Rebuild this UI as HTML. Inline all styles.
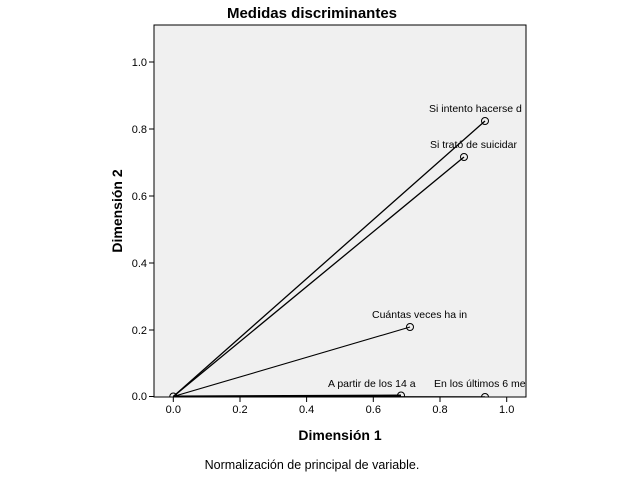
<!DOCTYPE html>
<html><head><style>body{margin:0;background:#fff}</style></head><body>
<svg width="625" height="482" xmlns="http://www.w3.org/2000/svg" font-family="Liberation Sans, Arial, sans-serif">
<rect width="625" height="482" fill="#fff"/>
<text x="312" y="18" font-size="15" font-weight="bold" text-anchor="middle">Medidas discriminantes</text>
<defs><clipPath id="c"><rect x="154" y="25" width="372" height="372"/></clipPath></defs>
<rect x="154" y="25" width="372" height="372" fill="#f0f0f0" stroke="#000" stroke-width="1"/>
<g clip-path="url(#c)" stroke="#000" fill="none">
<line x1="173.3" y1="396.5" x2="485" y2="121" stroke-width="1.3"/>
<line x1="173.3" y1="396.5" x2="464" y2="157" stroke-width="1.3"/>
<line x1="173.3" y1="396.5" x2="410" y2="327" stroke-width="1.1"/>
<line x1="173.3" y1="396.5" x2="401" y2="395.5" stroke-width="2"/>
<line x1="173.3" y1="396.5" x2="485" y2="397" stroke-width="1.5"/>
<circle cx="173.3" cy="396.5" r="3.5"/>
<circle cx="485" cy="121" r="3.5"/>
<circle cx="464" cy="157" r="3.5"/>
<circle cx="410" cy="327" r="3.5"/>
<circle cx="401" cy="395.5" r="3.5"/>
<circle cx="485" cy="397" r="3.5"/>
</g>
<g clip-path="url(#c)" font-size="10.5" fill="#000">
<text x="429" y="112">Si intento hacerse d</text>
<text x="430" y="148">Si trató de suicidar</text>
<text x="372" y="318">Cuántas veces ha in</text>
<text x="328" y="387">A partir de los 14 a</text>
<text x="434" y="387">En los últimos 6 me</text>
</g>
<line x1="154" y1="397" x2="526" y2="397" stroke="#000"/>
<g stroke="#000">
<line x1="149" y1="62" x2="154" y2="62"/><line x1="149" y1="129" x2="154" y2="129"/><line x1="149" y1="196" x2="154" y2="196"/><line x1="149" y1="263" x2="154" y2="263"/><line x1="149" y1="330" x2="154" y2="330"/><line x1="149" y1="396.5" x2="154" y2="396.5"/>
<line x1="173.3" y1="397" x2="173.3" y2="402"/><line x1="240" y1="397" x2="240" y2="402"/><line x1="306.6" y1="397" x2="306.6" y2="402"/><line x1="373.3" y1="397" x2="373.3" y2="402"/><line x1="440" y1="397" x2="440" y2="402"/><line x1="506.7" y1="397" x2="506.7" y2="402"/>
</g>
<g font-size="11" text-anchor="end">
<text x="147" y="66">1.0</text><text x="147" y="133">0.8</text><text x="147" y="200">0.6</text><text x="147" y="267">0.4</text><text x="147" y="334">0.2</text><text x="147" y="400">0.0</text>
</g>
<g font-size="11" text-anchor="middle">
<text x="173.3" y="413">0.0</text><text x="240" y="413">0.2</text><text x="306.6" y="413">0.4</text><text x="373.3" y="413">0.6</text><text x="440" y="413">0.8</text><text x="506.7" y="413">1.0</text>
</g>
<text x="340" y="440" font-size="14" font-weight="bold" text-anchor="middle">Dimensión 1</text>
<text transform="translate(122,211) rotate(-90)" font-size="14" font-weight="bold" text-anchor="middle">Dimensión 2</text>
<text x="312" y="469" font-size="12.5" text-anchor="middle">Normalización de principal de variable.</text>
</svg>
</body></html>
